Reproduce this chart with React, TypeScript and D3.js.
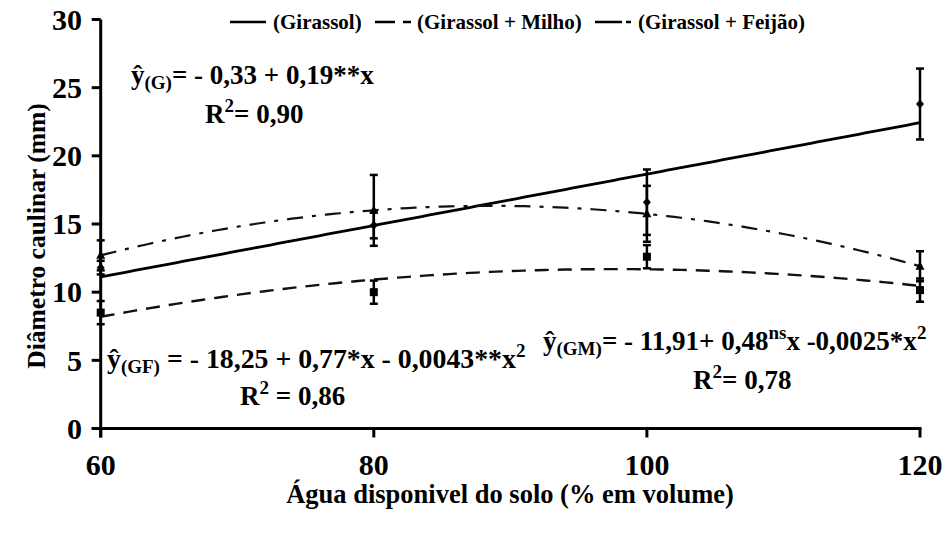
import React from 'react';
import * as d3 from 'd3';

const waterLevels = [60, 80, 100, 120];
const girassolMean = [11.8, 14.9, 16.6, 23.8];
const girassolErr = [0.5, 0.95, 2.4, 2.6];
const milhoMean = [8.5, 10.0, 12.6, 10.15];
const milhoErr = [0.85, 0.85, 0.85, 0.85];
const feijaoMean = [12.7, 16.0, 15.75, 11.9];
const feijaoErr = [1.1, 2.6, 2.05, 1.1];
const yTicks = [0, 5, 10, 15, 20, 25, 30];
const xTicks = [60, 80, 100, 120];
const legendLabels = ['(Girassol)', '(Girassol + Milho)', '(Girassol + Feijão)'];
const yTitle = 'Diâmetro caulinar (mm)';
const xTitle = 'Água disponivel do solo (% em volume)';

const W = 946;
const H = 533;
const FONT = "'Liberation Serif', 'Times New Roman', serif";

// least squares polynomial fit (degree 1 or 2), centered for stability
function polyfit(xs: number[], ys: number[], deg: number) {
  const cx = d3.mean(xs) as number;
  const n = deg + 1;
  const A: number[][] = Array.from({ length: n }, () => new Array(n + 1).fill(0));
  xs.forEach((x0, i) => {
    const x = x0 - cx;
    for (let r = 0; r < n; r++) {
      for (let c = 0; c < n; c++) A[r][c] += Math.pow(x, r + c);
      A[r][n] += Math.pow(x, r) * ys[i];
    }
  });
  for (let p = 0; p < n; p++) {
    let best = p;
    for (let r = p + 1; r < n; r++) if (Math.abs(A[r][p]) > Math.abs(A[best][p])) best = r;
    [A[p], A[best]] = [A[best], A[p]];
    for (let r = 0; r < n; r++) {
      if (r === p) continue;
      const f = A[r][p] / A[p][p];
      for (let c = p; c <= n; c++) A[r][c] -= f * A[p][c];
    }
  }
  const coef = A.map((row, i) => row[n] / row[i]);
  return (x: number) => coef.reduce((s, c, i) => s + c * Math.pow(x - cx, i), 0);
}

export default function App() {
  const x = d3.scaleLinear().domain([60, 120]).range([100.7, 920]);
  const y = d3.scaleLinear().domain([0, 30]).range([428.5, 19.5]);

  const series = [
    { name: legendLabels[0], mean: girassolMean, err: girassolErr, deg: 1, dash: 'none', width: 2.8, marker: 'diamond' },
    { name: legendLabels[1], mean: milhoMean, err: milhoErr, deg: 2, dash: '14,9', width: 2.4, marker: 'square' },
    { name: legendLabels[2], mean: feijaoMean, err: feijaoErr, deg: 2, dash: '16,9,4,9', width: 2.2, marker: 'triangle' },
  ];

  const samples = d3.range(60, 120.001, 0.5);
  const line = d3.line<[number, number]>().x(d => x(d[0])).y(d => y(d[1]));

  const marker = (type: string, cx: number, cy: number, key: string) => {
    if (type === 'diamond') {
      return <path key={key} d={`M${cx},${cy - 4.5}L${cx + 4},${cy}L${cx},${cy + 4.5}L${cx - 4},${cy}Z`} fill="#000" />;
    }
    if (type === 'square') {
      return <rect key={key} x={cx - 4} y={cy - 4} width={8} height={8} fill="#000" />;
    }
    return <path key={key} d={`M${cx},${cy - 5}L${cx + 4.5},${cy + 3.5}L${cx - 4.5},${cy + 3.5}Z`} fill="#000" />;
  };

  const sub = 19;
  return (
    <div style={{ position: 'fixed', left: 0, top: 0 }}>
      <svg width={W} height={H} style={{ display: 'block', background: '#fff', fontFamily: FONT, fontWeight: 'bold' }}>
        <rect width={W} height={H} fill="#fff" />
        {/* fitted curves */}
        {series.map((s, i) => {
          const f = polyfit(waterLevels, s.mean, s.deg);
          const pts = samples.map(v => [v, f(v)] as [number, number]);
          return (
            <path key={'c' + i} d={line(pts) as string} fill="none" stroke={i === 0 ? '#000' : '#111'}
              strokeWidth={s.width} strokeDasharray={s.dash} />
          );
        })}
        {/* error bars and markers */}
        {series.map((s, i) => (
          <g key={'e' + i}>
            {waterLevels.map((lv, j) => {
              const px = x(lv);
              const top = y(s.mean[j] + s.err[j]);
              const bot = y(s.mean[j] - s.err[j]);
              return (
                <g key={j}>
                  <line x1={px} x2={px} y1={top} y2={bot} stroke="#000" strokeWidth={2.5} />
                  <line x1={px - 4} x2={px + 4} y1={top} y2={top} stroke="#000" strokeWidth={2.5} />
                  <line x1={px - 4} x2={px + 4} y1={bot} y2={bot} stroke="#000" strokeWidth={2.5} />
                  {marker(s.marker, px, y(s.mean[j]), 'm' + j)}
                </g>
              );
            })}
          </g>
        ))}
        {/* axes */}
        <line x1={x(60)} x2={x(60)} y1={y(30)} y2={y(0) + 9} stroke="#000" strokeWidth={3} />
        <line x1={x(60) - 9} x2={x(120) + 1.5} y1={y(0)} y2={y(0)} stroke="#000" strokeWidth={3} />
        {yTicks.map(t => (
          <g key={'yt' + t}>
            <line x1={x(60) - 9} x2={x(60)} y1={y(t)} y2={y(t)} stroke="#000" strokeWidth={3} />
            <text x={82} y={y(t)} dy="0.34em" textAnchor="end" fontSize={30}>{t}</text>
          </g>
        ))}
        {xTicks.map(t => (
          <g key={'xt' + t}>
            <line x1={x(t)} x2={x(t)} y1={y(0)} y2={y(0) + 9} stroke="#000" strokeWidth={3} />
            <text x={x(t)} y={475} textAnchor="middle" fontSize={30}>{t}</text>
          </g>
        ))}
        <text transform="translate(45,236) rotate(-90)" textAnchor="middle" fontSize={25.5}>{yTitle}</text>
        <text x={510} y={503} textAnchor="middle" fontSize={26.5}>{xTitle}</text>
        {/* legend */}
        <g fontSize={21}>
          <line x1={230} x2={266} y1={22} y2={22} stroke="#000" strokeWidth={2.4} />
          <text x={273} y={29}>{legendLabels[0]}</text>
          <line x1={375} x2={411} y1={22} y2={22} stroke="#000" strokeWidth={2.4} strokeDasharray="20,8" />
          <text x={417} y={29}>{legendLabels[1]}</text>
          <line x1={595} x2={631} y1={22} y2={22} stroke="#000" strokeWidth={2.4} strokeDasharray="27,4,5,10" />
          <text x={638} y={29}>{legendLabels[2]}</text>
        </g>
        {/* equations */}
        <g fontSize={27}>
          <text x={131} y={84}>ŷ<tspan fontSize={sub} dy={5}>(G)</tspan><tspan dy={-5}>= - 0,33 + 0,19**x</tspan></text>
          <text x={205} y={123}>R<tspan fontSize={sub} dy={-11}>2</tspan><tspan dy={11}>= 0,90</tspan></text>
          <text x={107} y={368} fontSize={27.8}>ŷ<tspan fontSize={sub} dy={5}>(GF)</tspan><tspan dy={-5}> = - 18,25 + 0,77*x - 0,0043**x</tspan><tspan fontSize={sub} dy={-11}>2</tspan></text>
          <text x={240} y={405}>R<tspan fontSize={sub} dy={-11}>2</tspan><tspan dy={11}> = 0,86</tspan></text>
          <text x={543} y={350}>ŷ<tspan fontSize={sub} dy={5}>(GM)</tspan><tspan dy={-5}>= - 11,91+ 0,48</tspan><tspan fontSize={sub} dy={-11}>ns</tspan><tspan dy={11}>x -0,0025*x</tspan><tspan fontSize={sub} dy={-11}>2</tspan></text>
          <text x={693} y={389}>R<tspan fontSize={sub} dy={-11}>2</tspan><tspan dy={11}>= 0,78</tspan></text>
        </g>
      </svg>
    </div>
  );
}
